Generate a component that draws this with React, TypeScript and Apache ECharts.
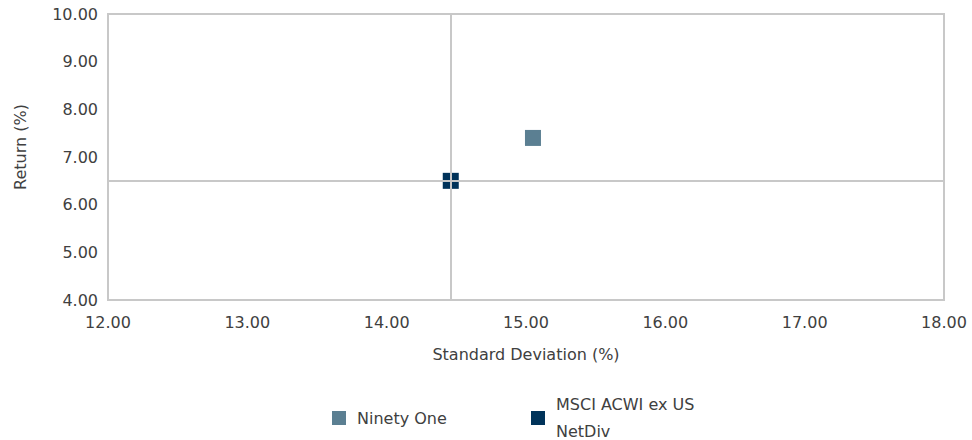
import React, { useEffect, useRef } from "react";
import * as echarts from "echarts";

const seriesNames = ["Ninety One", "MSCI ACWI ex US NetDiv"];
const seriesColors = ["#5b7f92", "#00335a"];
const stdDev = [15.05, 14.46];
const returns = [7.4, 6.5];
const xAxisName = "Standard Deviation (%)";
const yAxisName = "Return (%)";

const FONT = "DejaVu Sans";
const TEXT = "#404040";
const LINE = "#c8c8c8";

export default function App() {
  const ref = useRef<HTMLDivElement>(null);
  useEffect(() => {
    if (!ref.current) return;
    const chart = echarts.init(ref.current, undefined, { renderer: "svg" });
    const series: any[] = seriesNames.map((name, i) => ({
      name,
      type: "scatter",
      symbol: "rect",
      symbolSize: 16,
      itemStyle: { color: seriesColors[i], opacity: 1 },
      data: [[stdDev[i], returns[i]]],
      z: 2,
    }));
    series.push({
      name: "crosshair",
      type: "scatter",
      data: [],
      z: 5,
      silent: true,
      markLine: {
        symbol: "none",
        silent: true,
        label: { show: false },
        lineStyle: { color: LINE, type: "solid", width: 2 },
        data: [{ xAxis: stdDev[1] }, { yAxis: returns[1] }],
        z: 5,
      },
    });
    chart.setOption({
      animation: false,
      textStyle: { fontFamily: FONT, color: TEXT },
      grid: {
        left: 108,
        right: 28,
        top: 14,
        bottom: 140,
        show: true,
        borderColor: LINE,
        borderWidth: 2,
      },
      legend: [
        {
          data: [seriesNames[0]],
          left: 327,
          top: 405,
          itemWidth: 14,
          itemHeight: 14,
          icon: "rect",
          textStyle: { fontFamily: FONT, color: TEXT, fontSize: 16, padding: [0, 0, 0, 6] },
        },
        {
          data: [seriesNames[1]],
          left: 526,
          top: 386,
          itemWidth: 14,
          itemHeight: 14,
          icon: "rect",
          formatter: () => "MSCI ACWI ex US\nNetDiv",
          textStyle: {
            fontFamily: FONT,
            color: TEXT,
            fontSize: 16,
            lineHeight: 27,
            padding: [0, 0, 0, 6],
          },
        },
      ],
      xAxis: {
        type: "value",
        min: 12,
        max: 18,
        interval: 1,
        name: xAxisName,
        nameLocation: "middle",
        nameGap: 46,
        nameTextStyle: { fontFamily: FONT, color: TEXT, fontSize: 16 },
        axisLine: { show: true, lineStyle: { color: LINE, width: 2 } },
        axisTick: { show: false },
        splitLine: { show: false },
        axisLabel: {
          fontFamily: FONT,
          color: TEXT,
          fontSize: 16,
          margin: 14,
          formatter: (v: number) => v.toFixed(2),
        },
      },
      yAxis: {
        type: "value",
        min: 4,
        max: 10,
        interval: 1,
        name: yAxisName,
        nameLocation: "middle",
        nameGap: 80,
        nameTextStyle: { fontFamily: FONT, color: TEXT, fontSize: 16, padding: [0, 0, 0, 20] },
        axisLine: { show: true, lineStyle: { color: LINE, width: 2 } },
        axisTick: { show: false },
        splitLine: { show: false },
        axisLabel: {
          fontFamily: FONT,
          color: TEXT,
          fontSize: 16,
          margin: 10,
          formatter: (v: number) => v.toFixed(2),
        },
      },
      series,
    });
    return () => chart.dispose();
  }, []);
  return <div ref={ref} style={{ width: 972, height: 440, position: "absolute", left: 0, top: 0 }} />;
}
